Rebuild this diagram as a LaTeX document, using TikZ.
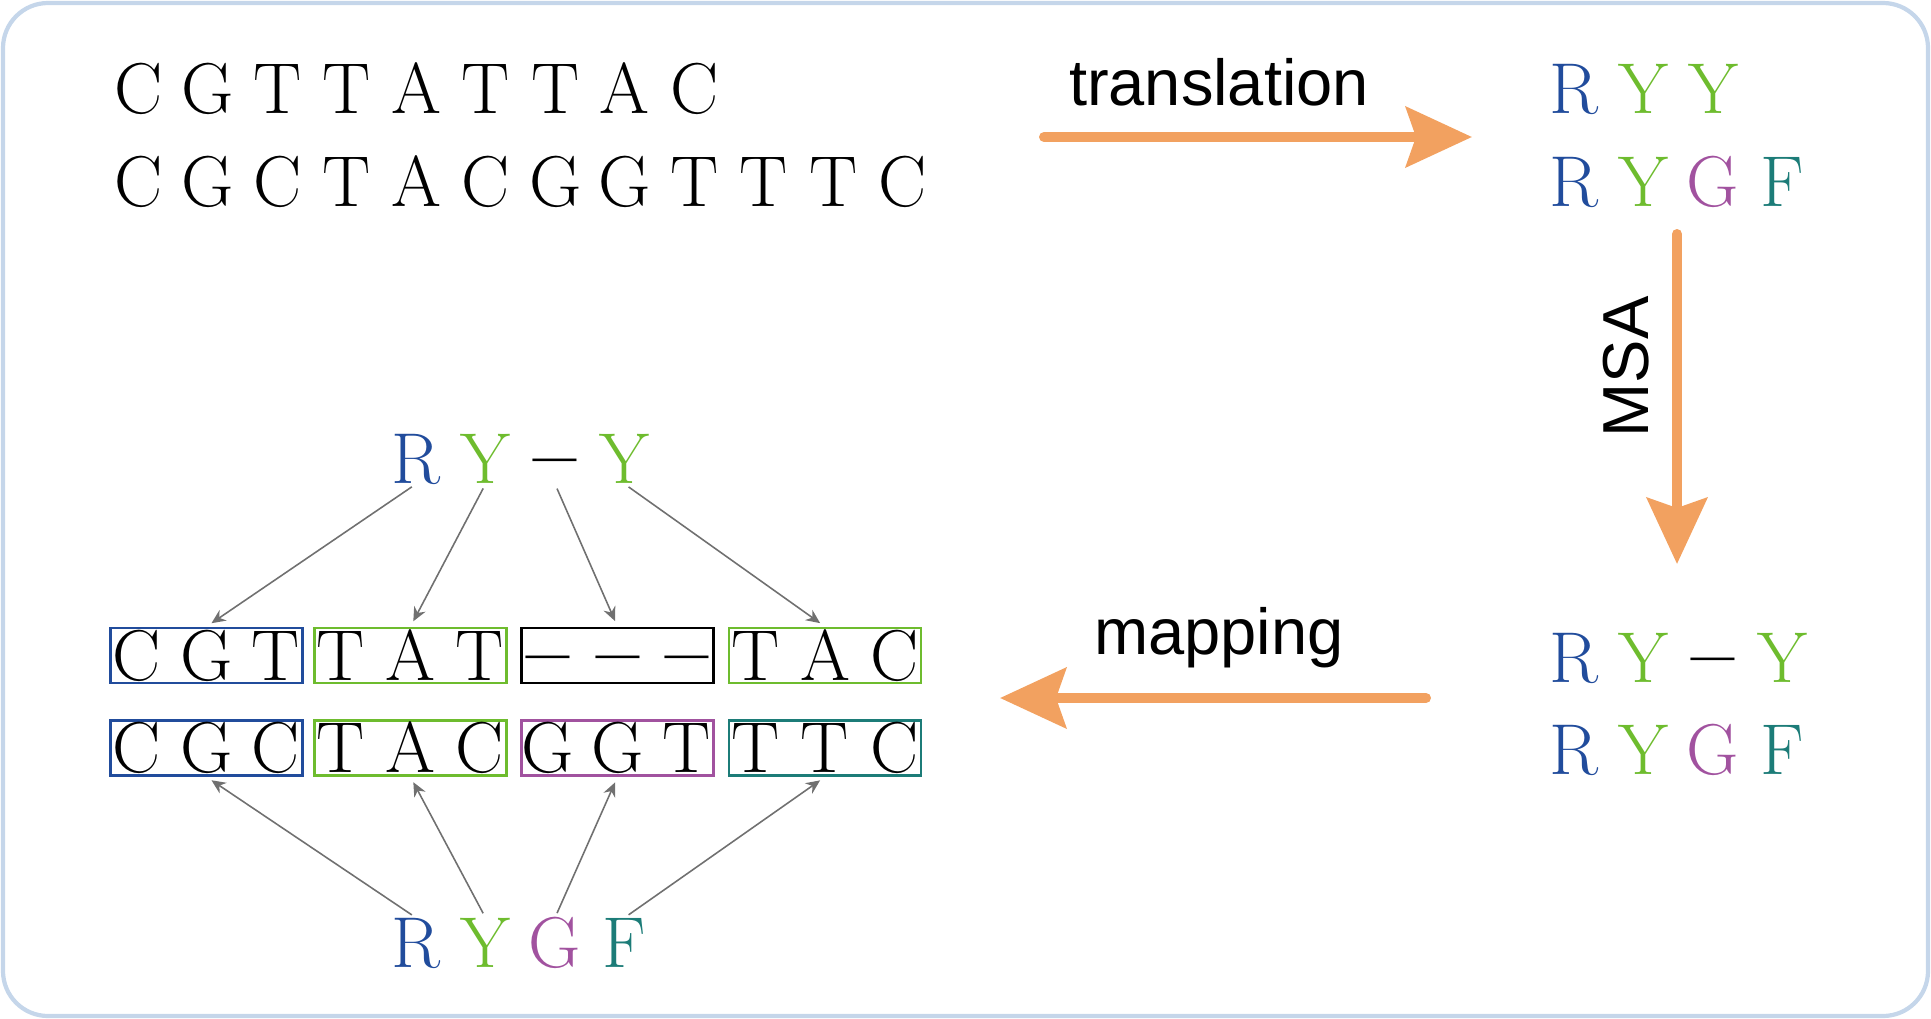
\documentclass[tikz,border=0pt]{standalone}
\usepackage{fontspec}
\usepackage{graphicx}
\newfontfamily\labelfont{Liberation Sans}
\usetikzlibrary{arrows.meta,positioning}
\definecolor{FrameBlue}{RGB}{197,214,234}
\definecolor{FlowOrange}{RGB}{242,161,96}
\definecolor{ResBlue}{RGB}{33,76,156}
\definecolor{ResGreen}{RGB}{110,188,46}
\definecolor{ResPurple}{RGB}{161,82,159}
\definecolor{ResTeal}{RGB}{28,124,120}
\definecolor{MapGray}{RGB}{112,112,112}
\newlength{\chpitch}
\setlength{\chpitch}{0.695cm}
\newcommand{\resch}[2][black]{\makebox[\chpitch]{\textcolor{#1}{#2}}}
\newcommand{\gapbar}{\smash{\raisebox{-0.27em}{\scalebox{1.3}[2.2]{\textendash}}}}

\begin{document}
\begin{tikzpicture}[
    seq/.style={font=\fontsize{20.5}{24}\selectfont,inner sep=0pt,text height=14pt,text depth=0pt},
    codon/.style={draw,line width=0.8pt,minimum width=1.92cm,minimum height=0.55cm,inner sep=0pt},
    flow/.style={-{Stealth[length=0.66cm,width=0.6cm,inset=0.1cm]},FlowOrange,line width=0.1cm,line cap=round},
    maparr/.style={-{Stealth[length=4pt,width=3.6pt]},MapGray,line width=0.45pt,
                   shorten <=0.05cm,shorten >=0.06cm},
    lbl/.style={font=\labelfont\fontsize{18.5}{22}\selectfont,inner sep=0pt}
  ]
    \useasboundingbox (0,0) rectangle (19.31,-10.19);
    \draw[FrameBlue,line width=1.2pt,rounded corners=0.45cm] (0.03,-0.03) rectangle (19.28,-10.16);

    % DNA input
    \node[seq,anchor=west] (dna1) at (1.03,-0.887)
      {\resch{C}\resch{G}\resch{T}\resch{T}\resch{A}\resch{T}\resch{T}\resch{A}\resch{C}};
    \node[seq,anchor=west] (dna2) at (1.03,-1.816)
      {\resch{C}\resch{G}\resch{C}\resch{T}\resch{A}\resch{C}\resch{G}\resch{G}\resch{T}\resch{T}\resch{T}\resch{C}};

    % protein sequences
    \node[seq,anchor=west] (aa1) at (15.385,-0.887)
      {\resch[ResBlue]{R}\resch[ResGreen]{Y}\resch[ResGreen]{Y}};
    \node[seq,anchor=west] (aa2) at (15.385,-1.816)
      {\resch[ResBlue]{R}\resch[ResGreen]{Y}\resch[ResPurple]{G}\resch[ResTeal]{F}};
    \node[seq,anchor=west] (msa1) at (15.385,-6.576)
      {\resch[ResBlue]{R}\resch[ResGreen]{Y}\resch{\gapbar}\resch[ResGreen]{Y}};
    \node[seq,anchor=west] (msa2) at (15.385,-7.50)
      {\resch[ResBlue]{R}\resch[ResGreen]{Y}\resch[ResPurple]{G}\resch[ResTeal]{F}};

    % flow arrows
    \coordinate (tStart) at (10.44,-1.37);
    \coordinate (tEnd) at (14.72,-1.37);
    \coordinate (aStart) at (16.77,-2.34);
    \coordinate (aEnd) at (16.77,-5.64);
    \coordinate (mStart) at (14.26,-6.98);
    \coordinate (mEnd) at (10.00,-6.98);
    \draw[flow] (tStart) -- (tEnd);
    \draw[flow] (aStart) -- (aEnd);
    \draw[flow] (mStart) -- (mEnd);
    \node[lbl] (tLbl) at (12.19,-0.82) {translation};
    \node[lbl,rotate=90] (aLbl) at (16.26,-3.67) {MSA};
    \node[lbl] (mLbl) at (12.19,-6.38) {mapping};

    % aligned protein, top
    \node[seq,text=ResBlue] (gR) at (4.16,-4.587) {R};
    \node[seq,text=ResGreen] (gY1) at (4.855,-4.587) {Y};
    \node[seq] (gGap) at (5.55,-4.587) {\gapbar};
    \node[seq,text=ResGreen] (gY2) at (6.245,-4.587) {Y};

    % codon boxes
    \node[codon,draw=ResBlue,label={[seq]center:{\resch{C}\resch{G}\resch{T}}}] (u1) at (2.065,-6.555) {};
    \node[codon,draw=ResGreen,label={[seq]center:{\resch{T}\resch{A}\resch{T}}}] (u2) at (4.105,-6.555) {};
    \node[codon,draw=black,label={[seq]center:{\resch{\gapbar}\resch{\gapbar}\resch{\gapbar}}}] (u3) at (6.175,-6.555) {};
    \node[codon,draw=ResGreen,label={[seq]center:{\resch{T}\resch{A}\resch{C}}}] (u4) at (8.25,-6.555) {};
    \node[codon,draw=ResBlue,label={[seq]center:{\resch{C}\resch{G}\resch{C}}}] (v1) at (2.065,-7.48) {};
    \node[codon,draw=ResGreen,label={[seq]center:{\resch{T}\resch{A}\resch{C}}}] (v2) at (4.105,-7.48) {};
    \node[codon,draw=ResPurple,label={[seq]center:{\resch{G}\resch{G}\resch{T}}}] (v3) at (6.175,-7.48) {};
    \node[codon,draw=ResTeal,label={[seq]center:{\resch{T}\resch{T}\resch{C}}}] (v4) at (8.25,-7.48) {};

    % protein, bottom
    \node[seq,text=ResBlue] (rR) at (4.16,-9.43) {R};
    \node[seq,text=ResGreen] (rY) at (4.855,-9.43) {Y};
    \node[seq,text=ResPurple] (rG) at (5.55,-9.43) {G};
    \node[seq,text=ResTeal] (rF) at (6.245,-9.43) {F};

    % mapping lines
    \draw[maparr] (gR.south) -- (u1.north);
    \draw[maparr] (gY1.south) -- (u2.north);
    \draw[maparr] (gGap.south) -- (u3.north);
    \draw[maparr] (gY2.south) -- (u4.north);
    \draw[maparr] (rR.north) -- (v1.south);
    \draw[maparr] (rY.north) -- (v2.south);
    \draw[maparr] (rG.north) -- (v3.south);
    \draw[maparr] (rF.north) -- (v4.south);
  \end{tikzpicture}
\end{document}
